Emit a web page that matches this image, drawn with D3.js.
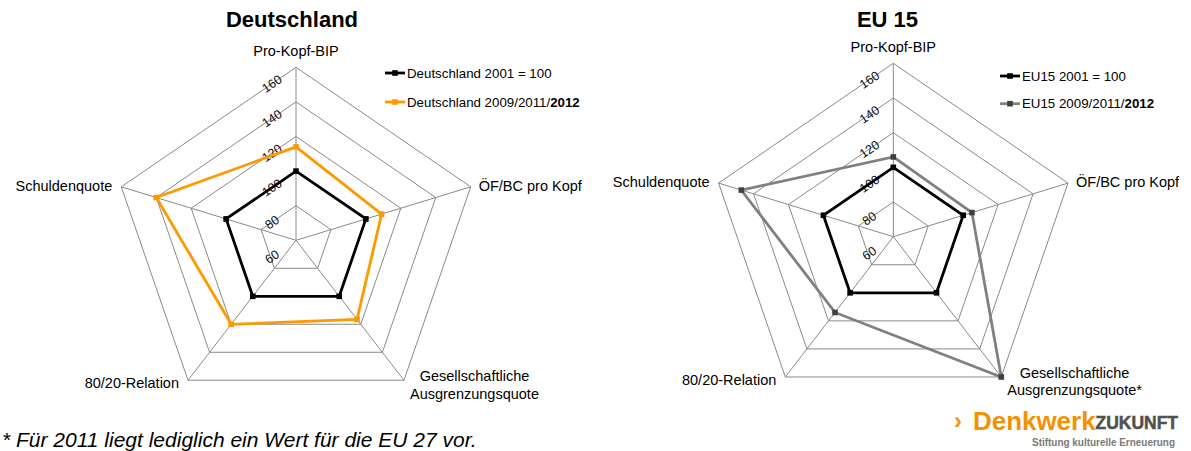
<!DOCTYPE html>
<html>
<head>
<meta charset="utf-8">
<script src="https://cdn.jsdelivr.net/npm/d3@7"></script>
<style>
  html, body { margin: 0; padding: 0; background: #fff; }
  svg { display: block; font-family: "Liberation Sans", Arial, sans-serif; }
</style>
</head>
<body>
<svg id="chart" width="1191" height="451"></svg>
<script>
// Radar axes, clockwise from the top
const axesDE = ["Pro-Kopf-BIP", "ÖF/BC pro Kopf", ["Gesellschaftliche", "Ausgrenzungsquote"], "80/20-Relation", "Schuldenquote"];
const axesEU = ["Pro-Kopf-BIP", "ÖF/BC pro Kopf", ["Gesellschaftliche", "Ausgrenzungsquote*"], "80/20-Relation", "Schuldenquote"];
const tickValues = [60, 80, 100, 120, 140, 160];

// Index values (2001 = 100)
const deBase   = [100, 100, 100, 100, 100];
const deLatest = [114, 109, 116.5, 120, 140];
const euBase   = [100, 100, 100, 100, 100];
const euLatest = [106, 105, 160, 114, 147];

const legendDE = ["Deutschland 2001 = 100", "Deutschland 2009/2011/", "2012"];
const legendEU = ["EU15 2001 = 100", "EU15 2009/2011/", "2012"];

const svg = d3.select("#chart");
svg.append("rect").attr("width", 1191).attr("height", 451).attr("fill", "#fff");

const GRID = "#8a8a8a";

function radar(cfg) {
  const g = svg.append("g");
  const rX = d3.scaleLinear().domain([60, 160]).range([0, cfg.rx]);
  const rY = d3.scaleLinear().domain([60, 160]).range([0, cfg.ry]);
  const ang = d3.scalePoint().domain(d3.range(5)).range([0, 2 * Math.PI * 4 / 5]);
  const pt = (i, v) => [cfg.cx + rX(v) * Math.sin(ang(i)), cfg.cy - rY(v) * Math.cos(ang(i))];
  const line = d3.line().curve(d3.curveLinearClosed);

  // Title
  g.append("text").attr("x", cfg.titleX).attr("y", 27).attr("text-anchor", "middle")
    .attr("font-size", 22).attr("font-weight", "bold").attr("fill", "#000").text(cfg.title);

  // Rings
  tickValues.slice(1).forEach(v => {
    g.append("path").attr("d", line(d3.range(5).map(i => pt(i, v))))
      .attr("fill", "none").attr("stroke", GRID).attr("stroke-width", 1);
  });
  // Spokes
  d3.range(5).forEach(i => {
    const [x, y] = pt(i, 160);
    g.append("line").attr("x1", cfg.cx).attr("y1", cfg.cy).attr("x2", x).attr("y2", y)
      .attr("stroke", GRID).attr("stroke-width", 1);
  });

  // Tick labels, laid along the upper-left ring edge
  const slope = (cfg.ry * (1 - Math.cos(ang(1)))) / (cfg.rx * Math.sin(ang(1)));
  const rot = -Math.atan(slope) * 180 / Math.PI;
  tickValues.forEach(v => {
    const tx = cfg.cx - 24;
    const ty = cfg.cy - rY(v) + 24 * slope;
    g.append("text").attr("transform", `translate(${tx},${ty}) rotate(${rot})`)
      .attr("text-anchor", "middle").attr("dy", "0.35em")
      .attr("font-size", 12.5).attr("fill", "#111").text(v);
  });

  // Axis labels
  const fs = 14.5;
  const v0 = pt(0, 160), v1 = pt(1, 160), v2 = pt(2, 160), v3 = pt(3, 160), v4 = pt(4, 160);
  g.append("text").attr("x", v0[0]).attr("y", v0[1] - 11).attr("text-anchor", "middle")
    .attr("font-size", fs).text(cfg.axes[0]);
  g.append("text").attr("x", v1[0] + 8).attr("y", v1[1] + 4).attr("text-anchor", "start")
    .attr("font-size", fs).text(cfg.axes[1]);
  const blk = g.append("g");
  const lines = cfg.axes[2].map((s, k) => blk.append("text").attr("y", v2[1] + 1 + k * 17.5)
    .attr("font-size", fs).attr("text-anchor", "middle").text(s));
  const wmax = d3.max(lines, t => t.node().getComputedTextLength());
  lines.forEach(t => t.attr("x", v2[0] + 6 + wmax / 2));
  g.append("text").attr("x", v3[0] - 9).attr("y", v3[1] + 8).attr("text-anchor", "end")
    .attr("font-size", fs).text(cfg.axes[3]);
  g.append("text").attr("x", v4[0] - 9).attr("y", v4[1] + 4).attr("text-anchor", "end")
    .attr("font-size", fs).text(cfg.axes[4]);

  // Series
  cfg.series.forEach(s => {
    const pts = s.values.map((v, i) => pt(i, v));
    g.append("path").attr("d", line(pts)).attr("fill", "none")
      .attr("stroke", s.color).attr("stroke-width", 2.8).attr("stroke-linejoin", "miter");
    g.selectAll(null).data(pts).enter().append("rect")
      .attr("x", d => d[0] - 2.8).attr("y", d => d[1] - 2.8)
      .attr("width", 5.6).attr("height", 5.6).attr("fill", s.marker);
  });

  // Legend
  cfg.series.forEach((s, k) => {
    const y = cfg.legY + k * cfg.legDy;
    const x = cfg.legX;
    g.append("line").attr("x1", x).attr("x2", x + 20).attr("y1", y).attr("y2", y)
      .attr("stroke", s.color).attr("stroke-width", 2.8);
    g.append("rect").attr("x", x + 10 - 2.8).attr("y", y - 2.8).attr("width", 5.6).attr("height", 5.6)
      .attr("fill", s.marker);
    const t = g.append("text").attr("x", x + 22).attr("y", y + 4.5).attr("font-size", 13.3).attr("fill", "#000");
    t.append("tspan").text(s.label[0]);
    if (s.label[1]) t.append("tspan").attr("font-weight", "bold").text(s.label[1]);
  });
}

radar({
  title: "Deutschland", titleX: 292, cx: 296, cy: 240.3, rx: 183.7, ry: 173,
  axes: axesDE, legX: 385, legY: 73, legDy: 29,
  series: [
    { values: deBase, color: "#000", marker: "#000", label: [legendDE[0]] },
    { values: deLatest, color: "#ff9900", marker: "#ff9900", label: [legendDE[1], legendDE[2]] }
  ]
});

radar({
  title: "EU 15", titleX: 887.5, cx: 893.3, cy: 236.7, rx: 183.7, ry: 173.4,
  axes: axesEU, legX: 1000, legY: 76, legDy: 27.7,
  series: [
    { values: euBase, color: "#000", marker: "#000", label: [legendEU[0]] },
    { values: euLatest, color: "#808080", marker: "#404040", label: [legendEU[1], legendEU[2]] }
  ]
});

// Footnote
svg.append("text").attr("x", 2).attr("y", 447).attr("font-size", 21).attr("font-style", "italic")
  .attr("fill", "#000").text("* Für 2011 liegt lediglich ein Wert für die EU 27 vor.");

// Foundation wordmark
const logo = svg.append("g");
logo.append("text").attr("x", 954).attr("y", 429).attr("font-size", 24).attr("font-weight", "bold")
  .attr("fill", "#f39200").text("›");
const word = logo.append("text").attr("x", 973).attr("y", 430).attr("font-weight", "bold")
  .attr("textLength", 205).attr("lengthAdjust", "spacingAndGlyphs");
word.append("tspan").attr("font-size", 26).attr("fill", "#f39200").text("Denkwerk");
word.append("tspan").attr("font-size", 17.5).attr("dy", -1).attr("fill", "#505050")
  .attr("stroke", "#505050").attr("stroke-width", 0.5).text("ZUKUNFT");
logo.append("text").attr("x", 1032).attr("y", 446).attr("font-size", 10.5).attr("font-weight", "bold")
  .attr("fill", "#7a7a7a").attr("textLength", 143).attr("lengthAdjust", "spacingAndGlyphs").text("Stiftung kulturelle Erneuerung");
</script>
</body>
</html>
